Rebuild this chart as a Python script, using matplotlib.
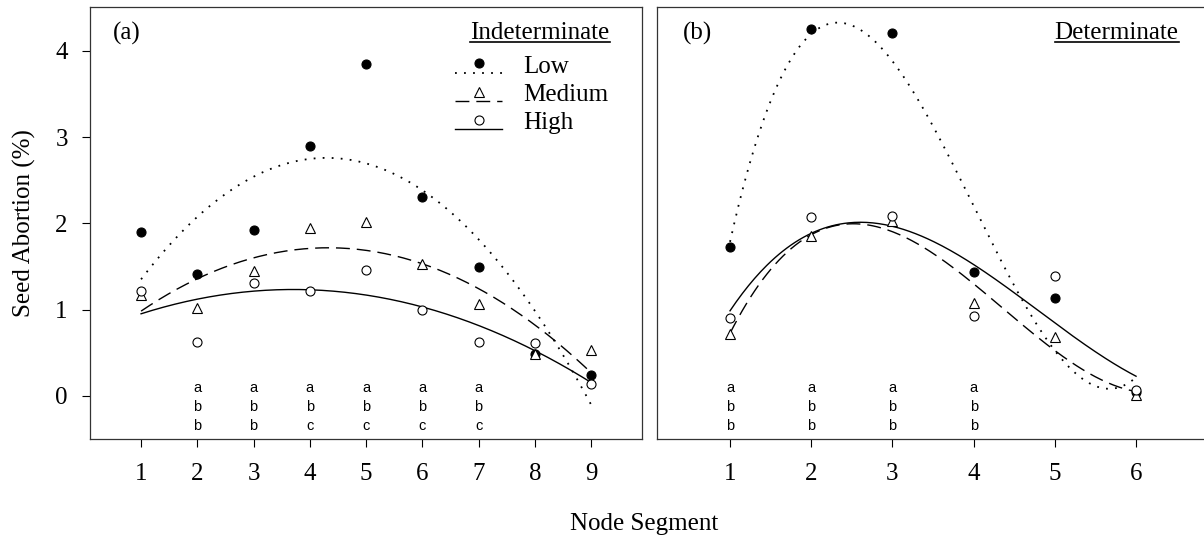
import numpy as np
import matplotlib
matplotlib.use("Agg")
import matplotlib.pyplot as plt

plt.rcParams['font.family'] = ['Liberation Serif', 'DejaVu Serif']

# node segments
ind_x = [1, 2, 3, 4, 5, 6, 7, 8, 9]
det_x = [1, 2, 3, 4, 5, 6]

# seed abortion (%) - indeterminate
ind_low = [1.90, 1.41, 1.92, 2.90, 3.85, 2.30, 1.49, 0.48, 0.24]
ind_med = [1.17, 1.02, 1.45, 1.94, 2.01, 1.53, 1.07, 0.48, 0.53]
ind_high = [1.22, 0.63, 1.31, 1.22, 1.46, 0.99, 0.63, 0.61, 0.14]

# seed abortion (%) - determinate
det_low = [1.73, 4.25, 4.21, 1.43, 1.13, 0.05]
det_med = [0.72, 1.85, 2.03, 1.08, 0.68, 0.01]
det_high = [0.90, 2.07, 2.08, 0.92, 1.39, 0.07]

# mean separation letters (low / medium / high) per segment
ind_letter_x = [2, 3, 4, 5, 6, 7]
ind_letters = ['abb', 'abb', 'abc', 'abc', 'abc', 'abc']
det_letter_x = [1, 2, 3, 4]
det_letters = ['abb', 'abb', 'abb', 'abb']

levels = ['Low', 'Medium', 'High']
styles = {
    'Low': dict(ls=(0, (1, 4)), lw=1.3, marker='o', mfc='black', ms=6.5),
    'Medium': dict(ls=(0, (10, 5)), lw=1.0, marker='^', mfc='white', ms=6.5),
    'High': dict(ls='-', lw=1.0, marker='o', mfc='white', ms=6.5),
}


def draw_panel(ax, x, series, degree, letter_x, letters):
    xs = np.linspace(min(x), max(x), 200)
    # regression curves fitted to the means
    for lev, y in zip(levels, series):
        st = styles[lev]
        coef = np.polyfit(x, y, degree)
        ax.plot(xs, np.polyval(coef, xs), color='black', ls=st['ls'], lw=st['lw'], zorder=2)
    for lev, y in zip(levels, series):
        st = styles[lev]
        ax.plot(x, y, ls='none', marker=st['marker'], mfc=st['mfc'], mec='black',
                ms=st['ms'], mew=0.8, zorder=3)
    # letters under each segment
    for lx, lt in zip(letter_x, letters):
        for k, ch in enumerate(lt):
            ax.text(lx, 0.09 - 0.22 * k, ch, ha='center', va='center',
                    fontsize=10.5, family=['Liberation Sans', 'DejaVu Sans'])
    ax.set_xticks(x)
    ax.tick_params(axis='x', direction='out', length=6, width=0.8, pad=11, labelsize=18)
    for sp in ax.spines.values():
        sp.set_color('0.2')
        sp.set_linewidth(0.9)


fig = plt.figure(figsize=(12.04, 5.42), dpi=100)
ax1 = fig.add_axes([0.0748, 0.19, 0.4585, 0.7976])
ax2 = fig.add_axes([0.5457, 0.19, 0.456, 0.7976])

draw_panel(ax1, ind_x, [ind_low, ind_med, ind_high], 2, ind_letter_x, ind_letters)
draw_panel(ax2, det_x, [det_low, det_med, det_high], 3, det_letter_x, det_letters)

ax1.set_xlim(0.093, 9.907)
ax2.set_xlim(0.101, 6.862)
for ax in (ax1, ax2):
    ax.set_ylim(-0.5, 4.51)
ax1.set_yticks([0, 1, 2, 3, 4])
ax1.tick_params(axis='y', direction='out', length=6, width=0.8, pad=10, labelsize=18)
ax2.set_yticks([])

ax1.text(0.042, 0.939, '(a)', transform=ax1.transAxes, fontsize=18, va='center', ha='left')
ax2.text(0.047, 0.939, '(b)', transform=ax2.transAxes, fontsize=18, va='center', ha='left')
t1 = ax1.text(0.815, 0.939, 'Indeterminate', transform=ax1.transAxes, fontsize=18,
              va='center', ha='center')
t2 = ax2.text(0.837, 0.939, 'Determinate', transform=ax2.transAxes, fontsize=18,
              va='center', ha='center')

# legend drawn by hand: marker above a short line, label to the right
leg_rows = [(0.870, 0.847), (0.803, 0.781), (0.738, 0.717)]
for lev, (my, ly) in zip(levels, leg_rows):
    st = styles[lev]
    ax1.plot([0.661, 0.746], [ly, ly], transform=ax1.transAxes, color='black',
             ls=st['ls'], lw=st['lw'], clip_on=False)
    ax1.plot([0.705], [my], transform=ax1.transAxes, ls='none', marker=st['marker'],
             mfc=st['mfc'], mec='black', ms=st['ms'], mew=0.8, clip_on=False)
    ax1.text(0.784, ly, lev, transform=ax1.transAxes, fontsize=18, va='baseline', ha='left')

fig.text(0.535, 0.033, 'Node Segment', fontsize=18, ha='center', va='center')
fig.text(0.02, 0.589, 'Seed Abortion (%)', fontsize=18, ha='center', va='center', rotation=90)

# underline the panel titles
fig.canvas.draw()
r = fig.canvas.get_renderer()
for ax, t in ((ax1, t1), (ax2, t2)):
    bb = t.get_window_extent(r).transformed(ax.transAxes.inverted())
    ax.plot([bb.x0, bb.x1], [bb.y0 + 0.005, bb.y0 + 0.005], transform=ax.transAxes,
            color='black', lw=1.2)

fig.savefig('out.png', dpi=100)
